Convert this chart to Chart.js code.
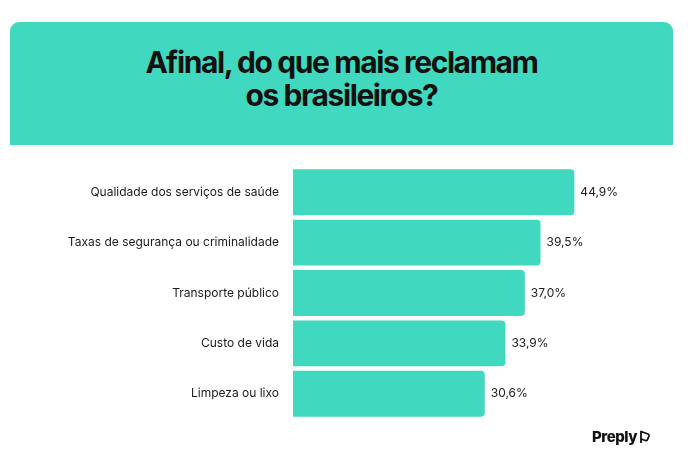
<!DOCTYPE html>
<html>
<head>
<meta charset="utf-8">
<script src="https://cdn.jsdelivr.net/npm/chart.js@4.4.0/dist/chart.umd.min.js"></script>
<style>
  body { margin: 0; background: #fff; width: 700px; height: 469px; position: relative; overflow: hidden; font-family: Inter, "Noto Sans", sans-serif; }
  #header {
    position: absolute; left: 10px; top: 22px; width: 663px; height: 123px;
    background: #40d9bf; border-radius: 9px 9px 0 0;
  }
  #header h1 {
    margin: 0; position: absolute; left: 0; right: 0; top: 24px;
    text-align: center; font-size: 30px; line-height: 33px; font-weight: 700;
    letter-spacing: -1.4px; color: #111;
  }
  #wrap { position: absolute; left: 0; top: 160px; width: 700px; height: 270px; }
  #logo { position: absolute; left: 592px; top: 427px; font-size: 15px; font-weight: 800; color: #111; letter-spacing: -0.5px; display: flex; align-items: center; gap: 2px; }
</style>
</head>
<body>
<div id="header"><h1>Afinal, do que mais reclamam<br>os brasileiros?</h1></div>
<div id="wrap"><canvas id="complaintschart"></canvas></div>
<div id="logo">Preply<svg width="12" height="14" viewBox="0 0 12 14"><path d="M2 1.5 L9 4 Q10.5 4.6 10 6 L8.5 9.5 Q8 11 6.5 10.5 L2 9 Z" fill="none" stroke="#111" stroke-width="1.8" stroke-linejoin="round"/><path d="M2 9 L2 13" stroke="#111" stroke-width="1.8"/></svg></div>
<script>
const categories = [
  "Qualidade dos serviços de saúde",
  "Taxas de segurança ou criminalidade",
  "Transporte público",
  "Custo de vida",
  "Limpeza ou lixo",
];
const percentages = [44.9, 39.5, 37.0, 33.9, 30.6];

// draws "44,9%" next to each bar end
const valueLabels = {
  id: "valueLabels",
  afterDatasetsDraw(chart) {
    const ctx = chart.ctx;
    const meta = chart.getDatasetMeta(0);
    ctx.save();
    ctx.font = "12px Inter, 'Noto Sans', sans-serif";
    ctx.fillStyle = "#222";
    ctx.textAlign = "left";
    ctx.textBaseline = "middle";
    meta.data.forEach((bar, i) => {
      const txt = percentages[i].toFixed(1).replace(".", ",") + "%";
      ctx.fillText(txt, bar.x + 6, bar.y);
    });
    ctx.restore();
  },
};

const ctx = document.getElementById("complaintschart").getContext("2d");

new Chart(ctx, {
  type: "bar",
  data: {
    labels: categories,
    datasets: [
      {
        data: percentages,
        backgroundColor: "#40d9bf",
        borderWidth: 0,
        borderRadius: { topRight: 4, bottomRight: 4 },
        borderSkipped: "start",
        barPercentage: 1,
        categoryPercentage: 0.91,
      },
    ],
  },
  options: {
    indexAxis: "y",
    responsive: true,
    maintainAspectRatio: false,
    animation: false,
    layout: {
      padding: { top: 7, bottom: 11, left: 0, right: 31 },
    },
    scales: {
      x: { display: false, min: 0, max: 60 },
      y: {
        grid: { display: false, drawTicks: false },
        border: { display: false },
        ticks: {
          padding: 14,
          color: "#1a1a1a",
          font: { family: "Inter, 'Noto Sans', sans-serif", size: 12 },
        },
        afterFit: (scale) => {
          scale.width = 293;
          scale.paddingTop = 0;
          scale.paddingBottom = 0;
        },
      },
    },
    plugins: {
      legend: { display: false },
      tooltip: { enabled: false },
    },
  },
  plugins: [valueLabels],
});
</script>
</body>
</html>
